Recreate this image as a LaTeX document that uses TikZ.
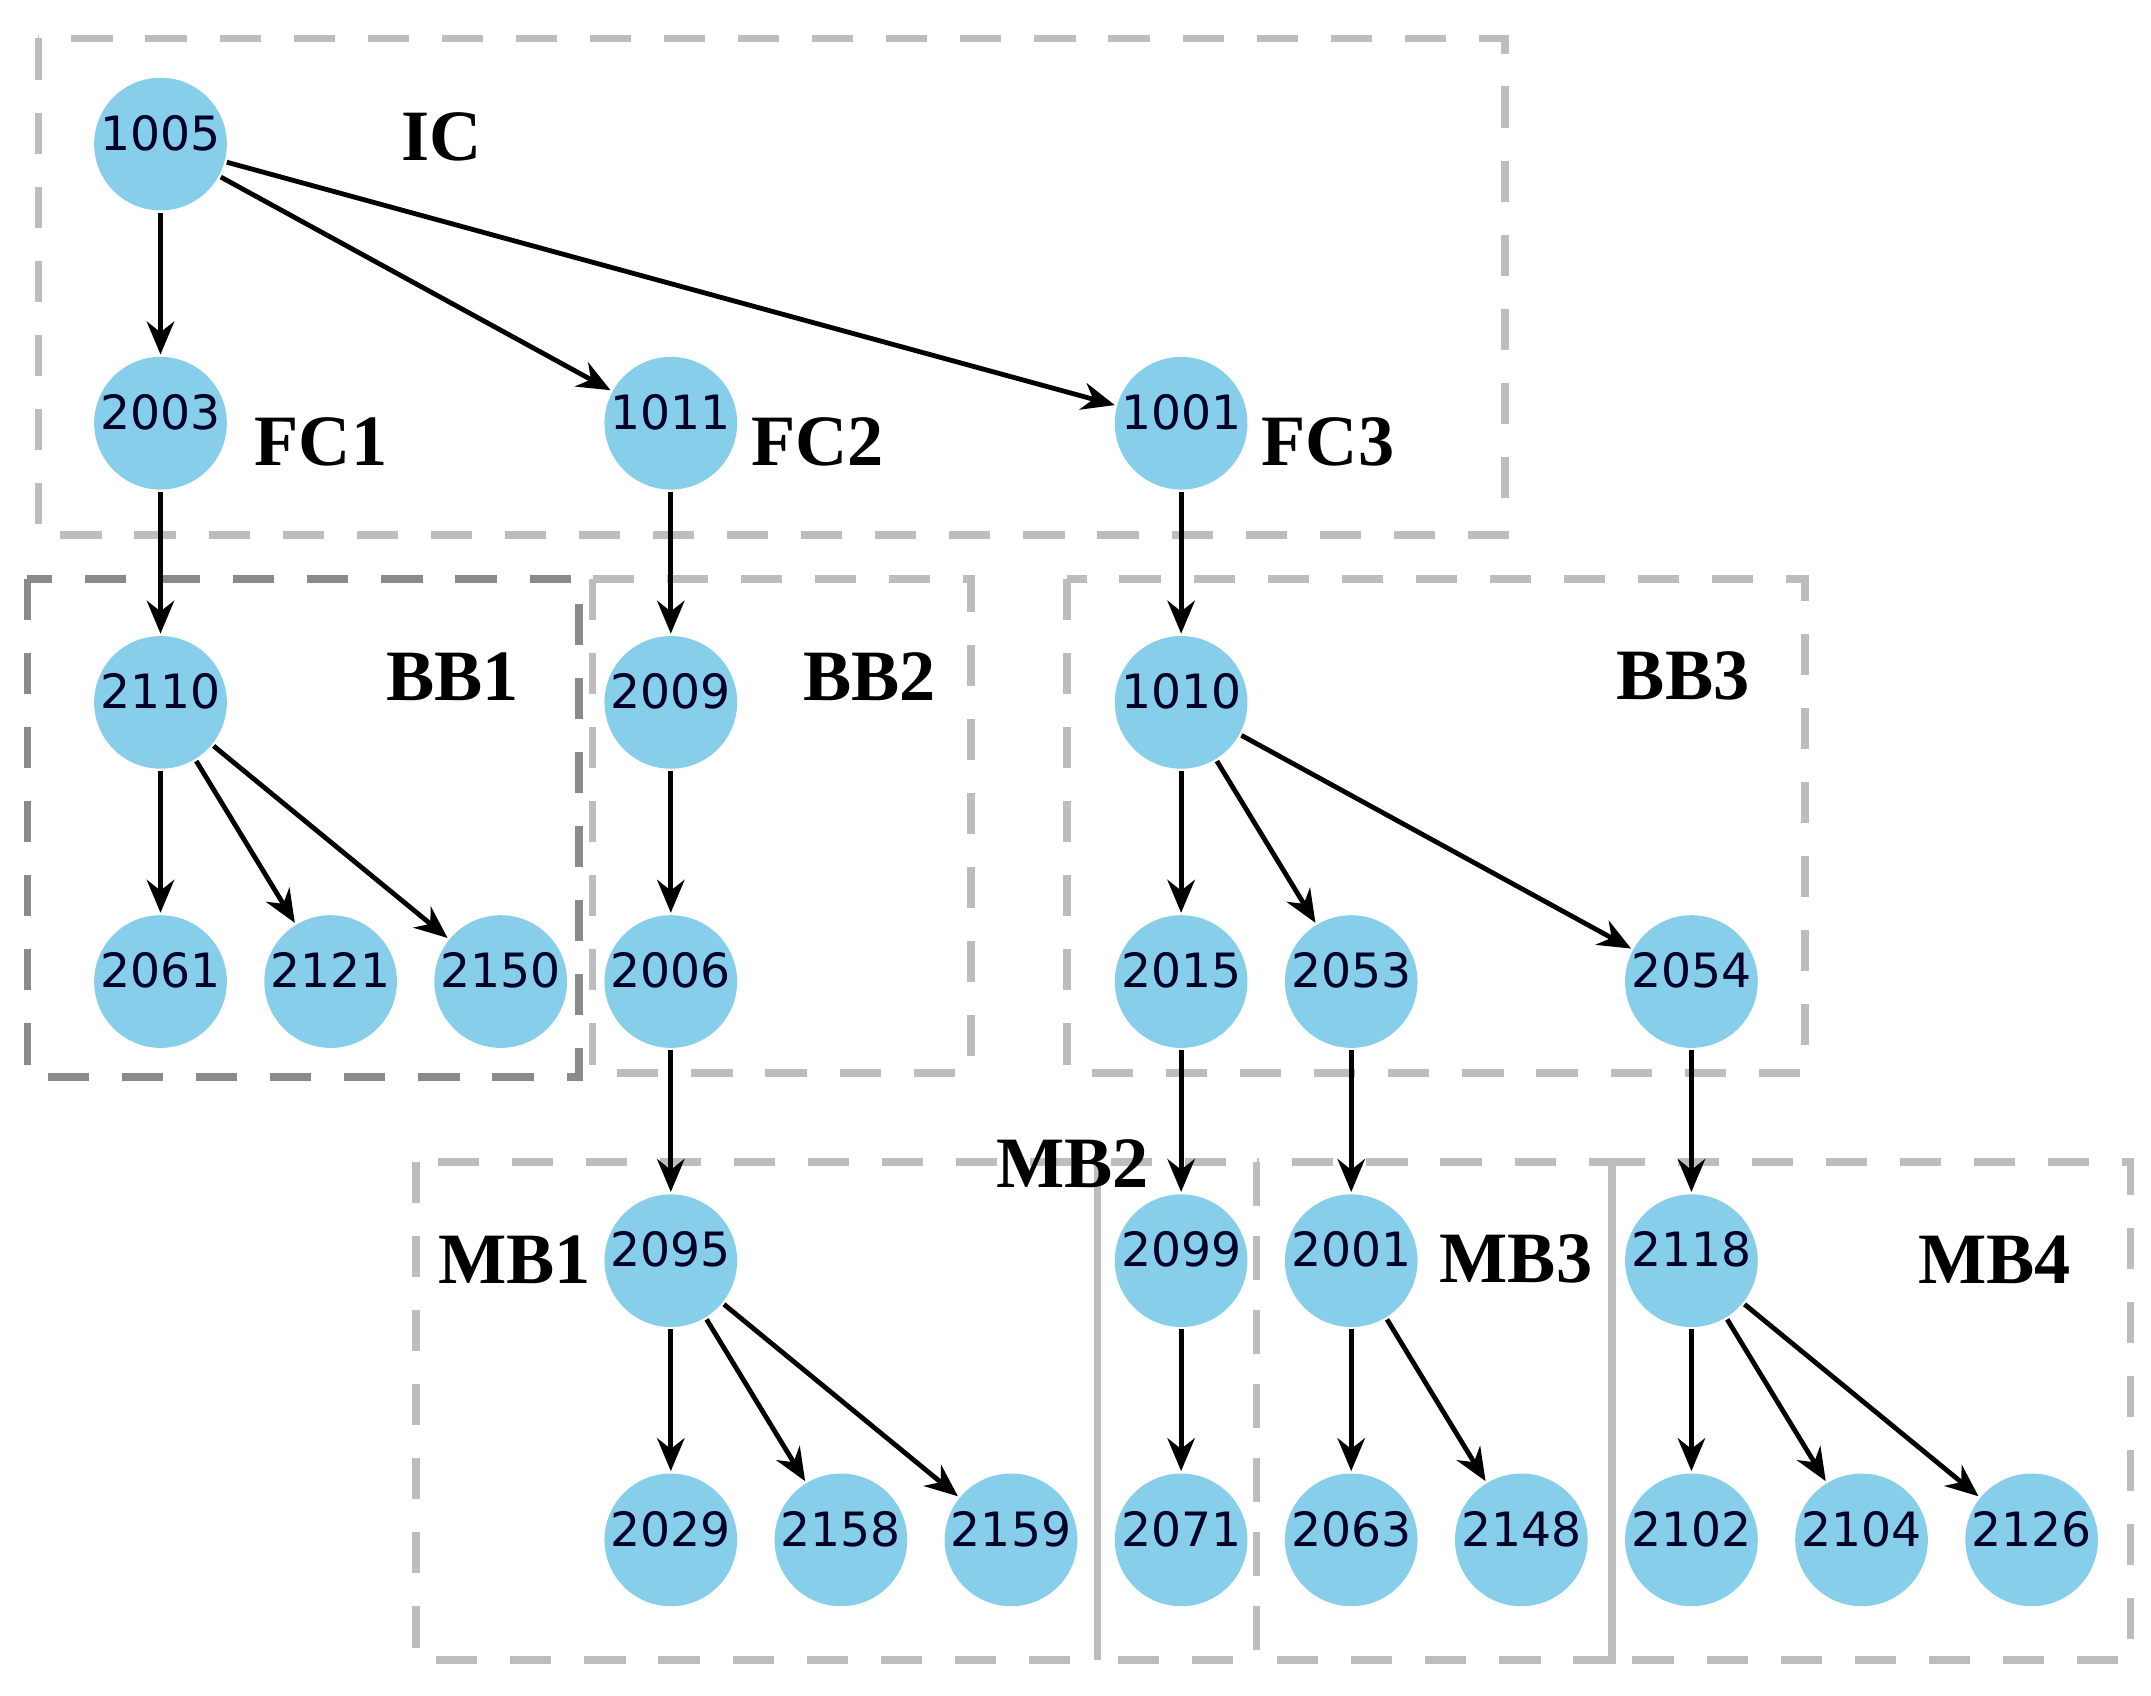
\documentclass[tikz,border=0pt]{standalone}
\usepackage{fontspec}
\setmainfont{Liberation Serif}
\newfontfamily\numfont{DejaVu Sans}
\usepackage{tikz}
\usetikzlibrary{arrows.meta,positioning}
\definecolor{nodeblue}{HTML}{87CEEB}
\definecolor{boxgray}{HTML}{BDBDBD}
\definecolor{boxdark}{HTML}{8A8A8A}

\begin{document}
\begin{tikzpicture}[x=0.1mm, y=-0.1mm, ->, >={Stealth[length=2.4mm,width=2mm]}, line width=1pt,
    vert/.style={circle, fill=nodeblue, draw=none, minimum size=9.6mm, inner sep=0pt,
        font=\numfont\fontsize{9.8}{10}\selectfont, text=black!85!blue, text height=2.5mm, text depth=1.6mm},
    grp/.style={-, draw=boxgray, line width=1.6pt, dash pattern=on 3mm off 2.4mm},
    tag/.style={font=\bfseries\fontsize{15}{16}\selectfont},
    node distance=20.35mm and 12.4mm, on grid]
                \useasboundingbox (0,0) rectangle (1568,1236);

                % groups
                \draw[grp] (28,28) rectangle (1097,390);
                \draw[grp, draw=boxdark] (20,422) rectangle (422,785);
                \draw[grp] (432,422) rectangle (708,782);
                \draw[grp] (778,422) rectangle (1316,782);
                \draw[grp] (303,847) rectangle (800,1210);
                \draw[grp] (800,847) rectangle (916,1210);
                \draw[grp] (916,847) rectangle (1175,1210);
                \draw[grp] (1175,847) rectangle (1553,1210);
                \draw[grp, solid] (800,858) -- (800,1210);
                \draw[grp, solid] (1160,847) -- (1175,847) -- (1175,1210);

                \node[vert]         (1005) at (117,105)        {1005};
                \node[vert]         (2003) [below=of 1005]     {2003};
                \node[vert]         (1011) [right=37.2mm of 2003] {1011};
                \node[vert]         (1001) [right=37.2mm of 1011] {1001};
                \node[vert]         (2110) [below=of 2003]     {2110};
                \node[vert]         (2009) [below=of 1011]     {2009};
                \node[vert]         (1010) [below=of 1001]     {1010};
                \node[vert]         (2061) [below=of 2110]     {2061};
                \node[vert]         (2121) [right=of 2061]     {2121};
                \node[vert]         (2150) [right=of 2121]     {2150};
                \node[vert]         (2006) [below=of 2009]     {2006};
                \node[vert]         (2015) [below=of 1010]     {2015};
                \node[vert]         (2053) [right=of 2015]     {2053};
                \node[vert]         (2054) [right=24.8mm of 2053] {2054};
                \node[vert]         (2095) [below=of 2006]     {2095};
                \node[vert]         (2099) [below=of 2015]     {2099};
                \node[vert]         (2001) [below=of 2053]     {2001};
                \node[vert]         (2118) [below=of 2054]     {2118};
                \node[vert]         (2029) [below=of 2095]     {2029};
                \node[vert]         (2158) [right=of 2029]     {2158};
                \node[vert]         (2159) [right=of 2158]     {2159};
                \node[vert]         (2071) [below=of 2099]     {2071};
                \node[vert]         (2063) [below=of 2001]     {2063};
                \node[vert]         (2148) [right=of 2063]     {2148};
                \node[vert]         (2102) [below=of 2118]     {2102};
                \node[vert]         (2104) [right=of 2102]     {2104};
                \node[vert]         (2126) [right=of 2104]     {2126};

                \node[tag] (IC)  at (322,100)  {IC};
                \node[tag] (FC1) at (234,322)  {FC1};
                \node[tag] (FC2) at (596,322)  {FC2};
                \node[tag] (FC3) at (968,322)  {FC3};
                \node[tag] (BB1) at (330,493)  {BB1};
                \node[tag] (BB2) at (634,493)  {BB2};
                \node[tag] (BB3) at (1227,493) {BB3};
                \node[tag] (MB1) at (375,918)  {MB1};
                \node[tag] (MB2) at (782,848)  {MB2};
                \node[tag] (MB3) at (1105,918) {MB3};
                \node[tag] (MB4) at (1454,918) {MB4};

                \path
                (1005) edge (2003) edge (1011) edge (1001)
                (2003) edge (2110)
                (1011) edge (2009)
                (1001) edge (1010)
                (2110) edge (2061) edge (2121) edge (2150)
                (2009) edge (2006)
                (1010) edge (2015) edge (2053) edge (2054)
                (2006) edge (2095)
                (2015) edge (2099)
                (2053) edge (2001)
                (2054) edge (2118)
                (2095) edge (2029) edge (2158) edge (2159)
                (2099) edge (2071)
                (2001) edge (2063) edge (2148)
                (2118) edge (2102) edge (2104) edge (2126);
            \end{tikzpicture}
\end{document}
